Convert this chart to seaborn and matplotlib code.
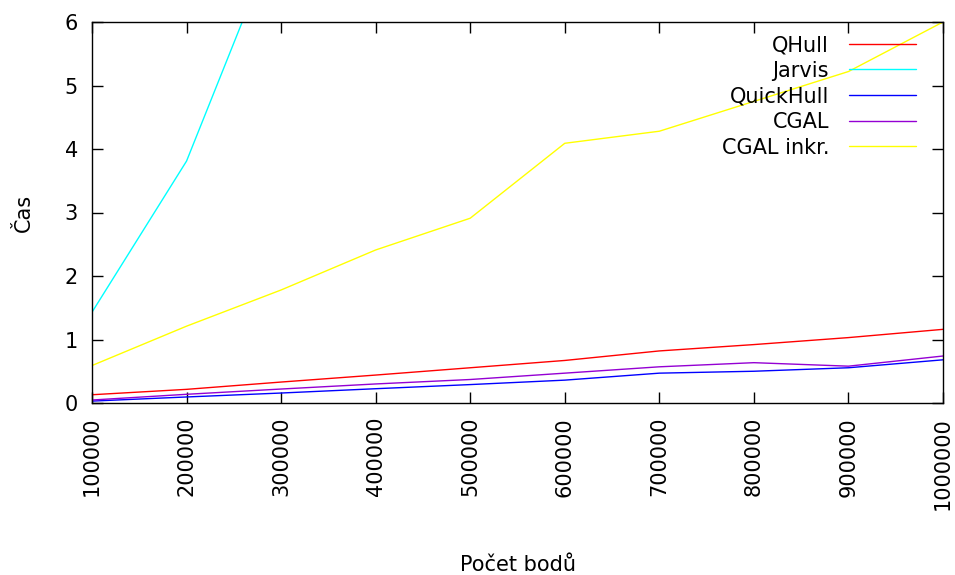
import numpy as np
import pandas as pd
import matplotlib
matplotlib.use("Agg")
import matplotlib.pyplot as plt
import seaborn as sns

# ---- data ----
points = [100000, 200000, 300000, 400000, 500000, 600000, 700000, 800000, 900000, 1000000]
qhull = [0.13, 0.215, 0.33, 0.44, 0.555, 0.67, 0.82, 0.92, 1.03, 1.16]
jarvis_points = [100000, 200000, 300000]
jarvis = [1.43, 3.81, 7.53]
quickhull = [0.03, 0.095, 0.157, 0.225, 0.29, 0.36, 0.47, 0.50, 0.555, 0.68]
cgal = [0.047, 0.137, 0.22, 0.30, 0.37, 0.47, 0.57, 0.635, 0.58, 0.74]
cgal_inkr = [0.59, 1.21, 1.78, 2.41, 2.91, 4.09, 4.28, 4.75, 5.22, 6.0]
series_names = ["QHull", "Jarvis", "QuickHull", "CGAL", "CGAL inkr."]
colors = ["#ff0000", "#00ffff", "#0000ff", "#9400d3", "#ffff00"]
xticks = points
yticks = [0, 1, 2, 3, 4, 5, 6]

frames = [
    pd.DataFrame({"n": points, "t": qhull, "s": "QHull"}),
    pd.DataFrame({"n": jarvis_points, "t": jarvis, "s": "Jarvis"}),
    pd.DataFrame({"n": points, "t": quickhull, "s": "QuickHull"}),
    pd.DataFrame({"n": points, "t": cgal, "s": "CGAL"}),
    pd.DataFrame({"n": points, "t": cgal_inkr, "s": "CGAL inkr."}),
]
df = pd.concat(frames, ignore_index=True)

sns.set_style("ticks")
plt.rcParams["font.family"] = ["DejaVu Sans"]
plt.rcParams["font.size"] = 15
plt.rcParams["text.color"] = "black"
plt.rcParams["axes.labelcolor"] = "black"
plt.rcParams["xtick.color"] = "black"
plt.rcParams["ytick.color"] = "black"

FS = 15
fig = plt.figure(figsize=(9.55, 5.75), dpi=100)
ax = fig.add_axes([92 / 955, (575 - 403) / 575, (943 - 92) / 955, 381 / 575])

sns.lineplot(data=df, x="n", y="t", hue="s", hue_order=series_names,
             palette=dict(zip(series_names, colors)), linewidth=1.0,
             ax=ax, legend=True)

ax.set_xlim(100000, 1000000)
ax.set_ylim(0, 6)
ax.set_xticks(xticks)
ax.set_xticklabels([str(v) for v in xticks], rotation=90, fontsize=FS)
ax.set_yticks(yticks)
ax.set_yticklabels([str(v) for v in yticks], fontsize=FS)
ax.tick_params(direction="in", length=8, width=1, color="black",
               top=True, right=True, pad=10)
for sp in ax.spines.values():
    sp.set_visible(True)
    sp.set_color("black")
    sp.set_linewidth(1.0)

ax.set_xlabel("Počet bodů", fontsize=FS, labelpad=33)
ax.set_ylabel("Čas", fontsize=FS, labelpad=22)

leg = ax.legend(loc="upper right", bbox_to_anchor=(0.968, 0.9655), frameon=False,
                markerfirst=False, handlelength=3.2, handletextpad=0.96,
                labelspacing=0.27, borderaxespad=0, borderpad=0, fontsize=FS)

fig.savefig("out.png", dpi=100)
